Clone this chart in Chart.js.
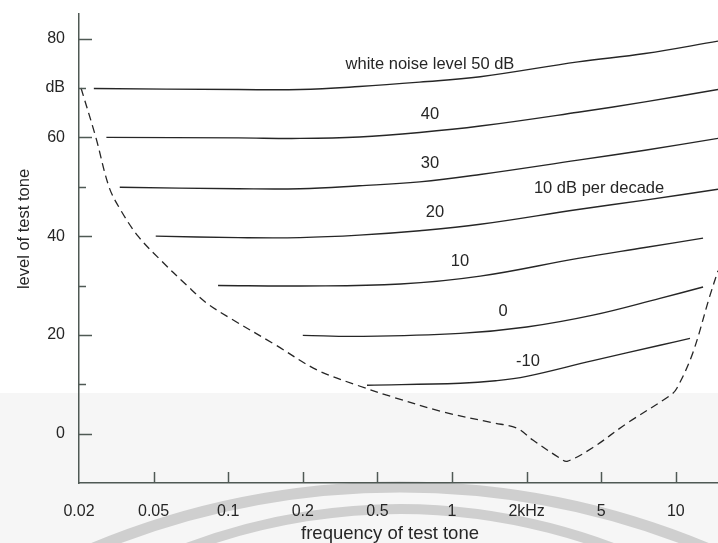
<!DOCTYPE html>
<html>
<head>
<meta charset="utf-8">
<script src="https://cdn.jsdelivr.net/npm/chart.js@4.4.0/dist/chart.umd.min.js"></script>
<style>
  html, body { margin: 0; padding: 0; background: #fff; }
  #wrap { width: 718px; height: 543px; }
</style>
</head>
<body>
<div id="wrap"><canvas id="maskingChart" width="718" height="543"></canvas></div>
<script>
// frequency axis: tick values in kHz, drawn equally spaced
const TICK_KHZ = [0.02, 0.05, 0.1, 0.2, 0.5, 1, 2, 5, 10];
const TICK_LABELS = ["0.02", "0.05", "0.1", "0.2", "0.5", "1", "2kHz", "5", "10"];
const X_MAX_KHZ = 14.8;

// level axis (dB)
const Y_TICKS = [0, 10, 20, 30, 40, 50, 60, 70, 80];
const Y_TICK_LABELS = ["0", "", "20", "", "40", "", "60", "dB", "80"];

// masked thresholds for white noise levels, [kHz, dB]
const noise50 = [[0.024, 69.9], [0.11, 69.7], [0.195, 69.7], [0.4, 70.3], [0.74, 71.2], [1.3, 72.3], [3.76, 75.3], [7.51, 77.0], [14.8, 79.5]];
const noise40 = [[0.028, 60.0], [0.11, 59.9], [0.195, 59.8], [0.4, 60.1], [0.74, 61.0], [1.3, 62.3], [3.76, 65.1], [7.51, 67.2], [14.8, 69.7]];
const noise30 = [[0.033, 49.9], [0.11, 49.6], [0.195, 49.6], [0.4, 50.2], [0.74, 51.0], [1.3, 52.5], [3.76, 55.4], [7.51, 57.4], [14.8, 59.8]];
const noise20 = [[0.051, 40.0], [0.11, 39.7], [0.195, 39.7], [0.4, 40.2], [0.74, 41.1], [1.3, 42.4], [3.76, 45.4], [7.51, 47.3], [14.8, 49.5]];
const noise10 = [[0.091, 30.0], [0.195, 29.9], [0.62, 30.3], [1.3, 31.9], [3.76, 35.5], [7.51, 37.7], [12.88, 39.6]];
const noise0 = [[0.2, 19.9], [0.4, 19.7], [1.08, 20.3], [2.0, 21.6], [4.52, 24.0], [8.63, 27.4], [12.88, 29.7]];
const noiseMinus10 = [[0.44, 9.8], [1.08, 10.2], [1.5, 10.7], [2.0, 11.6], [4.52, 14.8], [8.63, 17.9], [11.41, 19.3]];

// threshold in quiet (dashed)
const quietThreshold = [
  [0.0205, 70], [0.0246, 60], [0.0289, 50], [0.0331, 45.5], [0.0413, 40], [0.053, 35.3],
  [0.0682, 30], [0.0821, 26.4], [0.1017, 23.4], [0.155, 18], [0.238, 12.9],
  [0.404, 9.6], [0.578, 7.4], [0.92, 4.4], [1.46, 2.2], [1.83, 1.1], [2.16, -1.3],
  [3.02, -5], [3.29, -5.6], [4.52, -2.8], [6.35, 2.1], [9.47, 7.7], [10.1, 9.2],
  [11.7, 16.3], [13.7, 27.8], [14.8, 33]
];

// curve labels and where they sit (kHz, dB)
const curveLabels = ["white noise level 50 dB", "40", "30", "20", "10", "0", "-10", "10 dB per decade"];
const labelKHz = [0.815, 0.815, 0.815, 0.854, 1.077, 1.607, 2.035, 4.87];
const labelDB = [74.8, 64.7, 54.7, 44.8, 34.9, 24.8, 14.7, 49.7];

const AXIS_COLOR = "#4f5954";
const INK = "#262626";
const FONT = "'Liberation Sans', Arial, sans-serif";

// kHz -> position on the equally spaced tick axis
function toAxis(f) {
  const t = TICK_KHZ.concat([20]);
  let i = 0;
  while (i < t.length - 2 && f > t[i + 1]) i++;
  return i + Math.log(f / t[i]) / Math.log(t[i + 1] / t[i]);
}

const toPoints = (arr) => arr.map(([f, db]) => ({ x: toAxis(f), y: db }));

const solid = (data) => ({
  data: toPoints(data),
  borderColor: INK,
  borderWidth: 1.4,
  pointRadius: 0,
  fill: false,
  tension: 0.4,
});

const decorations = {
  id: "decorations",
  beforeDraw(chart) {
    const ctx = chart.ctx;
    ctx.save();
    ctx.fillStyle = "#ffffff";
    ctx.fillRect(0, 0, chart.width, chart.height);
    ctx.fillStyle = "#f6f6f6";
    ctx.fillRect(0, 393, chart.width, chart.height - 393);
    // watermark arcs
    ctx.strokeStyle = "#cfcfcf";
    ctx.lineWidth = 11;
    ctx.beginPath();
    ctx.arc(400, 1287, 800, Math.PI * 1.25, Math.PI * 1.75);
    ctx.stroke();
    ctx.lineWidth = 10;
    ctx.beginPath();
    ctx.arc(400, 1109, 600, Math.PI * 1.2, Math.PI * 1.8);
    ctx.stroke();
    ctx.restore();
  },
  afterDraw(chart) {
    const { ctx, scales: { x, y }, chartArea } = chart;
    ctx.save();
    // inward tick marks
    ctx.strokeStyle = AXIS_COLOR;
    ctx.lineWidth = 1.5;
    Y_TICKS.forEach((v) => {
      const py = Math.round(y.getPixelForValue(v)) + 0.5;
      const len = v % 20 === 0 ? 13 : 7;
      ctx.beginPath();
      ctx.moveTo(chartArea.left, py);
      ctx.lineTo(chartArea.left + len, py);
      ctx.stroke();
    });
    TICK_KHZ.slice(1).forEach((f) => {
      const px = Math.round(x.getPixelForValue(toAxis(f))) + 0.5;
      ctx.beginPath();
      ctx.moveTo(px, chartArea.bottom);
      ctx.lineTo(px, chartArea.bottom - 11);
      ctx.stroke();
    });

    // curve labels
    ctx.fillStyle = INK;
    ctx.font = "16.5px " + FONT;
    ctx.textAlign = "center";
    ctx.textBaseline = "middle";
    curveLabels.forEach((txt, i) => {
      ctx.fillText(txt, x.getPixelForValue(toAxis(labelKHz[i])), y.getPixelForValue(labelDB[i]));
    });

    // axis titles
    ctx.font = "18.5px " + FONT;
    ctx.textBaseline = "alphabetic";
    ctx.fillText("frequency of test tone", 390, 539);
    ctx.translate(28.5, 229);
    ctx.rotate(-Math.PI / 2);
    ctx.font = "16.5px " + FONT;
    ctx.fillText("level of test tone", 0, 0);
    ctx.restore();
  },
};

new Chart(document.getElementById("maskingChart"), {
  type: "line",
  data: {
    datasets: [
      solid(noise50),
      solid(noise40),
      solid(noise30),
      solid(noise20),
      solid(noise10),
      solid(noise0),
      solid(noiseMinus10),
      {
        data: toPoints(quietThreshold),
        borderColor: INK,
        borderWidth: 1.3,
        borderDash: [8, 5],
        pointRadius: 0,
        fill: false,
        tension: 0.35,
      },
    ],
  },
  options: {
    responsive: false,
    animation: false,
    devicePixelRatio: 1,
    layout: { padding: { top: 14, left: 0, right: 0, bottom: 0 } },
    plugins: { legend: { display: false }, tooltip: { enabled: false } },
    scales: {
      x: {
        type: "linear",
        min: 0,
        max: toAxis(X_MAX_KHZ),
        afterBuildTicks: (s) => { s.ticks = TICK_KHZ.map((f) => ({ value: toAxis(f) })); },
        afterFit: (s) => { s.height = 60; s.paddingLeft = 0; s.paddingRight = 0; },
        grid: { display: false, drawTicks: false },
        border: { display: true, color: AXIS_COLOR, width: 1.5 },
        ticks: {
          autoSkip: false,
          maxRotation: 0,
          padding: 19,
          color: INK,
          font: { family: FONT, size: 16 },
          callback: (v, i) => TICK_LABELS[i],
        },
      },
      y: {
        type: "linear",
        min: -10,
        max: 85,
        afterBuildTicks: (s) => { s.ticks = Y_TICKS.map((v) => ({ value: v })); },
        afterFit: (s) => { s.width = 79; s.paddingTop = 0; s.paddingBottom = 0; },
        grid: { display: false, drawTicks: false },
        border: { display: true, color: AXIS_COLOR, width: 1.5 },
        ticks: {
          autoSkip: false,
          padding: 14,
          color: INK,
          font: { family: FONT, size: 16 },
          callback: (v, i) => Y_TICK_LABELS[i],
        },
      },
    },
  },
  plugins: [decorations],
});
</script>
</body>
</html>
